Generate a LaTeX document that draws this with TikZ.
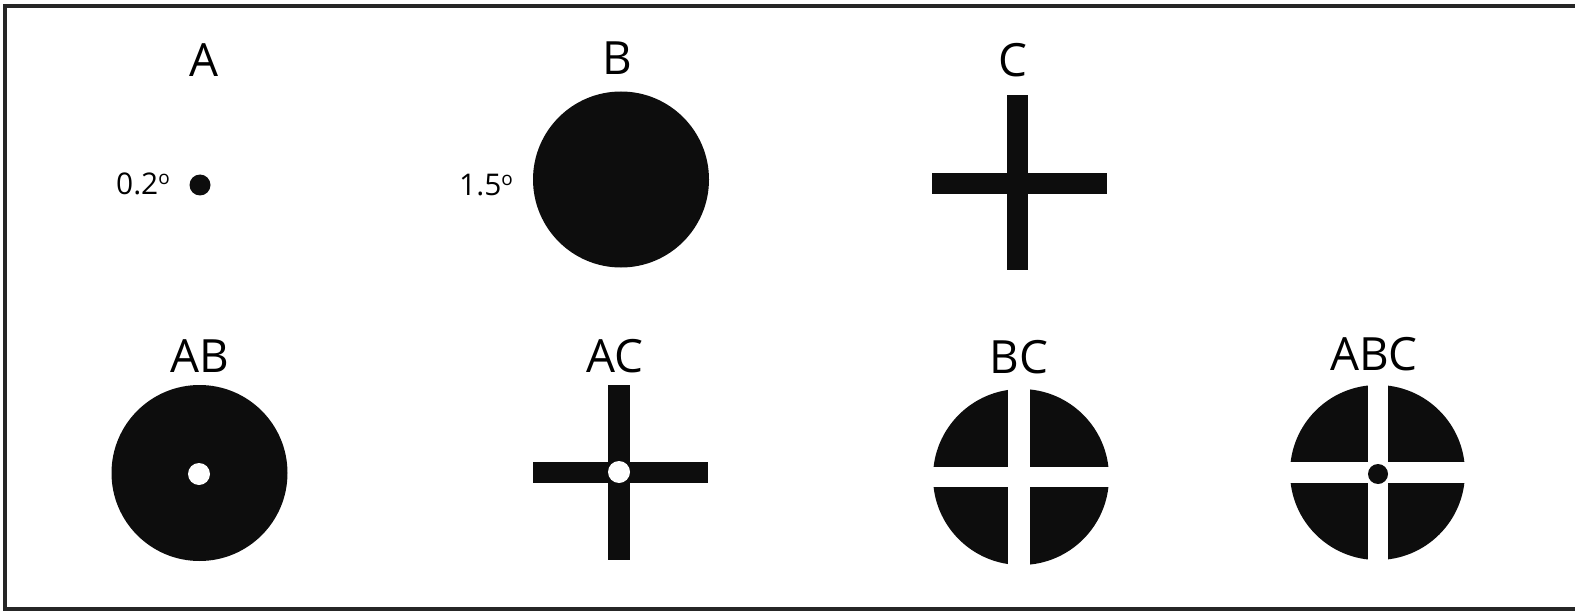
\documentclass[tikz,border=0pt]{standalone}
\usepackage{fontspec}
\setmainfont{Open Sans}
\newcommand{\degmark}{\raisebox{10bp}{\fontsize{19}{21}\selectfont o}}
\begin{document}
\begin{tikzpicture}[x=1bp,y=-1bp,
  lbl/.style={font=\fontsize{46}{50}\selectfont, inner sep=0pt, anchor=base, text=black},
  deg/.style={font=\fontsize{30}{34}\selectfont, inner sep=0pt, anchor=base west, text=black},
  ink/.style={fill=black!95},
  gapw/.style={fill=white}]
\useasboundingbox (0,0) rectangle (1575,613);
% frame
\draw[line width=3.5bp, black!85] (1578,6) -- (5,6) -- (5,609) -- (1578,609);
% labels
\node[lbl] (lA) at (204,77) {A};
\node[lbl] (lB) at (617,75) {B};
\node[lbl] (lC) at (1013,77) {C};
\node[lbl] (lAB) at (200,372) {AB};
\node[lbl] (lAC) at (615,372) {AC};
\node[lbl] (lBC) at (1019,373) {BC};
\node[lbl] (lABC) at (1374,370) {ABC};
\node[deg] (dA) at (116,195) {0.2\degmark};
\node[deg] (dB) at (459,196) {1.5\degmark};
% A
\fill[ink] (200,185) circle (10.5);
% B
\fill[ink] (621,179.5) circle (88);
% C
\fill[ink] (1007,95) rectangle (1028,270);
\fill[ink] (932,173) rectangle (1107,194);
% AB
\fill[ink] (199.5,473) circle (88);
\fill[gapw] (199,474) circle (11);
% AC
\fill[ink] (608,385) rectangle (630,560);
\fill[ink] (533,462) rectangle (708,483);
\fill[gapw] (619,472) circle (11);
% BC
\fill[ink] (1021,477) circle (88);
\fill[gapw] (1008,380) rectangle (1030,575);
\fill[gapw] (925,467) rectangle (1118,487);
% ABC
\fill[ink] (1377.5,472.5) circle (87.5);
\fill[gapw] (1368,380) rectangle (1388,570);
\fill[gapw] (1285,462) rectangle (1470,483);
\fill[ink] (1378,474) circle (10);
\end{tikzpicture}
\end{document}
